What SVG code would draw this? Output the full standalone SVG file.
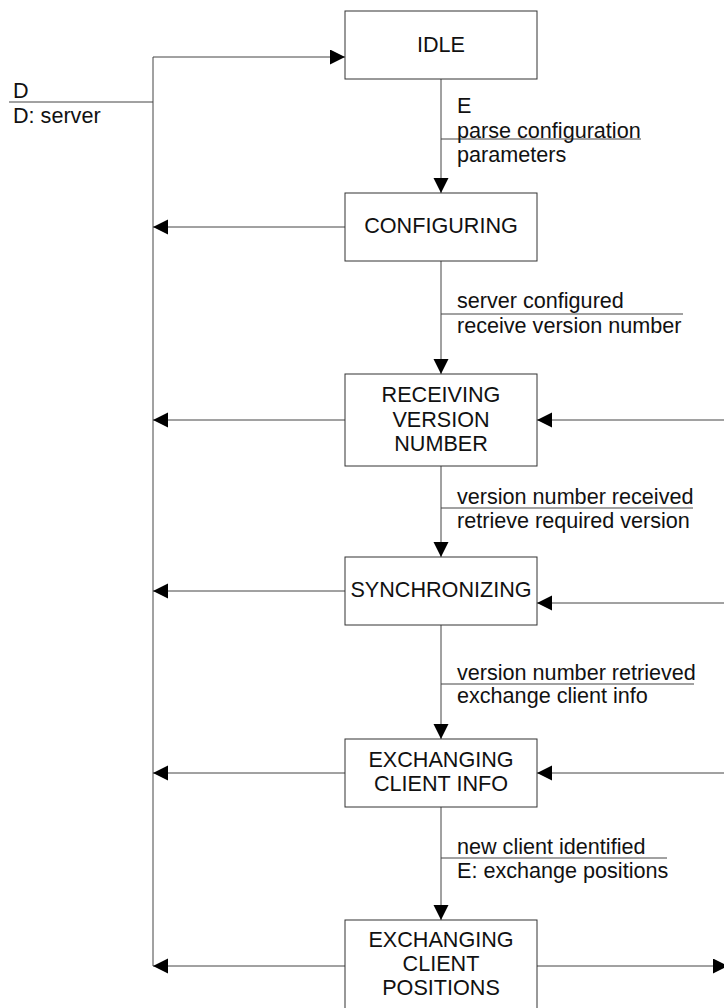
<svg xmlns="http://www.w3.org/2000/svg" width="724" height="1008" viewBox="0 0 724 1008">
  <style>
    .box { fill: #ffffff; stroke: #333333; stroke-width: 1; }
    .wire { fill: none; stroke: #444444; stroke-width: 1; }
    .sep { fill: none; stroke: #444444; stroke-width: 1; }
    text { font-family: "Liberation Sans", Arial, sans-serif; font-size: 21.6px; fill: #111111; }
    .mid { text-anchor: middle; }
  </style>
  <defs>
    <marker id="arrow" markerUnits="userSpaceOnUse" markerWidth="16" markerHeight="16" refX="15" refY="7.5" orient="auto">
      <path d="M0,0 L15,7.5 L0,15 Z" fill="#000000"/>
    </marker>
  </defs>

  <rect width="724" height="1008" fill="#ffffff"/>

  <!-- connectors -->
  <g id="connectors">
    <!-- initial transition into IDLE -->
    <line class="wire" x1="9" y1="102" x2="153" y2="102"/>
    <polyline class="wire" points="153,966 153,57 345,57" marker-end="url(#arrow)"/>

    <!-- main chain -->
    <line class="wire" x1="441" y1="79" x2="441" y2="193" marker-end="url(#arrow)"/>
    <line class="wire" x1="441" y1="261" x2="441" y2="374" marker-end="url(#arrow)"/>
    <line class="wire" x1="441" y1="466" x2="441" y2="557" marker-end="url(#arrow)"/>
    <line class="wire" x1="441" y1="625" x2="441" y2="739" marker-end="url(#arrow)"/>
    <line class="wire" x1="441" y1="807" x2="441" y2="920" marker-end="url(#arrow)"/>

    <!-- returns to the left bus -->
    <line class="wire" x1="345" y1="227" x2="153" y2="227" marker-end="url(#arrow)"/>
    <line class="wire" x1="345" y1="420" x2="153" y2="420" marker-end="url(#arrow)"/>
    <line class="wire" x1="345" y1="591" x2="153" y2="591" marker-end="url(#arrow)"/>
    <line class="wire" x1="345" y1="773" x2="153" y2="773" marker-end="url(#arrow)"/>
    <line class="wire" x1="345" y1="966" x2="153" y2="966" marker-end="url(#arrow)"/>

    <!-- incoming from the right -->
    <line class="wire" x1="726" y1="420" x2="537" y2="420" marker-end="url(#arrow)"/>
    <line class="wire" x1="726" y1="603" x2="537" y2="603" marker-end="url(#arrow)"/>
    <line class="wire" x1="726" y1="773" x2="537" y2="773" marker-end="url(#arrow)"/>
    <!-- outgoing to the right -->
    <line class="wire" x1="537" y1="966" x2="728" y2="966" marker-end="url(#arrow)"/>

    <!-- transition labels -->
    <text x="13" y="98">D</text>
    <text x="13" y="123">D: server</text>

    <line class="sep" x1="441" y1="139" x2="641" y2="139"/>
    <text x="457" y="113">E</text>
    <text x="457" y="138">parse configuration</text>
    <text x="457" y="162">parameters</text>

    <line class="sep" x1="441" y1="314" x2="683" y2="314"/>
    <text x="457" y="308">server configured</text>
    <text x="457" y="333">receive version number</text>

    <line class="sep" x1="441" y1="508" x2="693" y2="508"/>
    <text x="457" y="504">version number received</text>
    <text x="457" y="528">retrieve required version</text>

    <line class="sep" x1="441" y1="684" x2="694" y2="684"/>
    <text x="457" y="680">version number retrieved</text>
    <text x="457" y="703">exchange client info</text>

    <line class="sep" x1="441" y1="858" x2="667" y2="858"/>
    <text x="457" y="854">new client identified</text>
    <text x="457" y="878">E: exchange positions</text>
  </g>

  <!-- states -->
  <g id="idle">
    <rect class="box" x="345" y="11" width="192" height="68"/>
    <text class="mid" x="441" y="52">IDLE</text>
  </g>

  <g id="configuring">
    <rect class="box" x="345" y="193" width="192" height="68"/>
    <text class="mid" x="441" y="233">CONFIGURING</text>
  </g>

  <g id="receiving-version-number">
    <rect class="box" x="345" y="374" width="192" height="92"/>
    <text class="mid" x="441" y="402">RECEIVING</text>
    <text class="mid" x="441" y="427">VERSION</text>
    <text class="mid" x="441" y="451">NUMBER</text>
  </g>

  <g id="synchronizing">
    <rect class="box" x="345" y="557" width="192" height="68"/>
    <text class="mid" x="441" y="597">SYNCHRONIZING</text>
  </g>

  <g id="exchanging-client-info">
    <rect class="box" x="345" y="739" width="192" height="68"/>
    <text class="mid" x="441" y="767">EXCHANGING</text>
    <text class="mid" x="441" y="791">CLIENT INFO</text>
  </g>

  <g id="exchanging-client-positions">
    <rect class="box" x="345" y="920" width="192" height="100"/>
    <text class="mid" x="441" y="947">EXCHANGING</text>
    <text class="mid" x="441" y="971">CLIENT</text>
    <text class="mid" x="441" y="995">POSITIONS</text>
  </g>
</svg>
